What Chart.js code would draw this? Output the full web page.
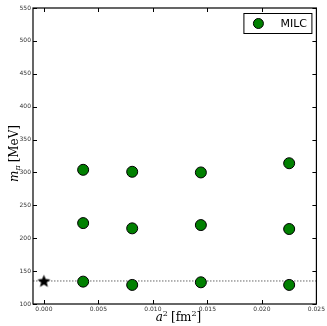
<!DOCTYPE html>
<html>
<head>
<meta charset="utf-8">
<script src="https://cdn.jsdelivr.net/npm/chart.js@4"></script>
<style>
  html, body { margin: 0; padding: 0; background: #fff; }
  #wrap { width: 327px; height: 326px; }
</style>
</head>
<body>
<div id="wrap"><canvas id="chart" width="327" height="326"></canvas></div>
<script>
// lattice spacings squared [fm^2]
const a2 = [0.0036, 0.0081, 0.0144, 0.0225];
// pion masses [MeV], one list per ensemble row
const mpiHeavy = [304, 301, 300, 314];
const mpiMid = [223, 215, 220, 214];
const mpiLight = [134, 129, 133, 129];
// physical point
const physA2 = [0];
const physMpi = [135];
// axes
const xRange = [-0.001, 0.025];
const yRange = [100, 550];
const xTicks = [0.000, 0.005, 0.010, 0.015, 0.020, 0.025];
const yTicks = [100, 150, 200, 250, 300, 350, 400, 450, 500, 550];

const milcPoints = [];
[mpiHeavy, mpiMid, mpiLight].forEach(function(row) {
    row.forEach(function(m, i) { milcPoints.push({ x: a2[i], y: m }); });
});

// filled five-point star marker
function makeStar() {
    const c = document.createElement('canvas');
    c.width = 15; c.height = 15;
    const g = c.getContext('2d');
    g.beginPath();
    for (let k = 0; k < 10; k++) {
        const r = k % 2 === 0 ? 6.8 : 3;
        const ang = -Math.PI / 2 + k * Math.PI / 5;
        const px = 7.5 + r * Math.cos(ang), py = 8 + r * Math.sin(ang);
        if (k === 0) g.moveTo(px, py); else g.lineTo(px, py);
    }
    g.closePath();
    g.fillStyle = '#000';
    g.fill();
    return c;
}

// ticks pointing inwards on all four sides + full frame
const frame = {
    id: 'frame',
    afterDatasetsDraw: function(chart) {
        const ctx = chart.ctx;
        const ca = chart.chartArea;
        const xs = chart.scales.x, ys = chart.scales.y;
        ctx.save();
        ctx.strokeStyle = '#000';
        ctx.lineWidth = 1;
        ctx.beginPath();
        xTicks.forEach(function(v) {
            const px = Math.round(xs.getPixelForValue(v)) + 0.5;
            ctx.moveTo(px, ca.bottom); ctx.lineTo(px, ca.bottom - 4);
            ctx.moveTo(px, ca.top); ctx.lineTo(px, ca.top + 4);
        });
        yTicks.forEach(function(v) {
            const py = Math.round(ys.getPixelForValue(v)) + 0.5;
            ctx.moveTo(ca.left, py); ctx.lineTo(ca.left + 4, py);
            ctx.moveTo(ca.right, py); ctx.lineTo(ca.right - 4, py);
        });
        ctx.stroke();
        ctx.lineWidth = 1.2;
        ctx.strokeRect(ca.left, ca.top, ca.right - ca.left, ca.bottom - ca.top);

        // legend
        const lx = ca.right - 73, ly = ca.top + 5;
        ctx.fillStyle = '#fff';
        ctx.fillRect(lx, ly, 68, 20);
        ctx.lineWidth = 1;
        ctx.strokeRect(lx + 0.5, ly + 0.5, 68, 20);
        ctx.beginPath();
        ctx.arc(lx + 15, ly + 10.5, 5, 0, Math.PI * 2);
        ctx.fillStyle = '#008000';
        ctx.fill();
        ctx.stroke();
        ctx.fillStyle = '#000';
        ctx.font = '11px "DejaVu Sans"';
        ctx.textBaseline = 'middle';
        ctx.fillText('MILC', lx + 37, ly + 11);

        // axis titles
        ctx.textBaseline = 'alphabetic';
        const cx = (ca.left + ca.right) / 2;
        const by = 321;
        let x = cx - 19;
        ctx.font = 'italic 12px "DejaVu Serif"';
        ctx.fillText('a', x, by); x += ctx.measureText('a').width;
        ctx.font = '8px "DejaVu Serif"';
        ctx.fillText('2', x, by - 5); x += ctx.measureText('2').width + 3;
        ctx.font = '12px "DejaVu Serif"';
        ctx.fillText('[fm', x, by); x += ctx.measureText('[fm').width;
        ctx.font = '8px "DejaVu Serif"';
        ctx.fillText('2', x, by - 5); x += ctx.measureText('2').width;
        ctx.font = '12px "DejaVu Serif"';
        ctx.fillText(']', x, by);

        ctx.translate(18, (ca.top + ca.bottom) / 2);
        ctx.rotate(-Math.PI / 2);
        let t = -26;
        ctx.font = 'italic 12px "DejaVu Serif"';
        ctx.fillText('m', t, 0); t += ctx.measureText('m').width;
        ctx.font = 'italic 8px "DejaVu Serif"';
        ctx.fillText('\u03c0', t, 2); t += ctx.measureText('\u03c0').width + 3;
        ctx.font = '12px "DejaVu Serif"';
        ctx.fillText('[MeV]', t, 0);
        ctx.restore();
    }
};

new Chart(document.getElementById('chart'), {
    type: 'scatter',
    data: {
        datasets: [
            {
                label: 'MILC',
                data: milcPoints,
                backgroundColor: '#008000',
                borderColor: '#000',
                borderWidth: 1,
                pointRadius: 5.5,
                order: 1
            },
            {
                label: 'physical',
                data: physA2.map(function(v, i) { return { x: v, y: physMpi[i] }; }),
                pointStyle: makeStar(),
                pointRadius: 7,
                order: 0
            },
            {
                label: 'line',
                type: 'line',
                data: xRange.map(function(v) { return { x: v, y: physMpi[0] }; }),
                borderColor: '#666',
                borderWidth: 1,
                borderDash: [1.5, 1.5],
                pointRadius: 0,
                order: 2
            }
        ]
    },
    options: {
        responsive: false,
        animation: false,
        layout: { padding: { left: 0, right: 7, top: 8, bottom: 0 } },
        plugins: { legend: { display: false }, tooltip: { enabled: false } },
        scales: {
            x: {
                type: 'linear',
                min: xRange[0],
                max: xRange[1],
                afterBuildTicks: function(s) { s.ticks = xTicks.map(function(v) { return { value: v }; }); },
                afterFit: function(s) { s.height = 22; },
                grid: { display: false, drawTicks: false },
                border: { display: false },
                ticks: {
                    padding: 2,
                    color: '#333',
                    font: { size: 6, family: 'DejaVu Sans' },
                    maxRotation: 0,
                    callback: function(v) { return v.toFixed(3); }
                }
            },
            y: {
                min: yRange[0],
                max: yRange[1],
                afterBuildTicks: function(s) { s.ticks = yTicks.map(function(v) { return { value: v }; }); },
                afterFit: function(s) { s.width = 33; },
                grid: { display: false, drawTicks: false },
                border: { display: false },
                ticks: {
                    padding: 2,
                    color: '#333',
                    font: { size: 6, family: 'DejaVu Sans' }
                }
            }
        }
    },
    plugins: [frame]
});
</script>
</body>
</html>
